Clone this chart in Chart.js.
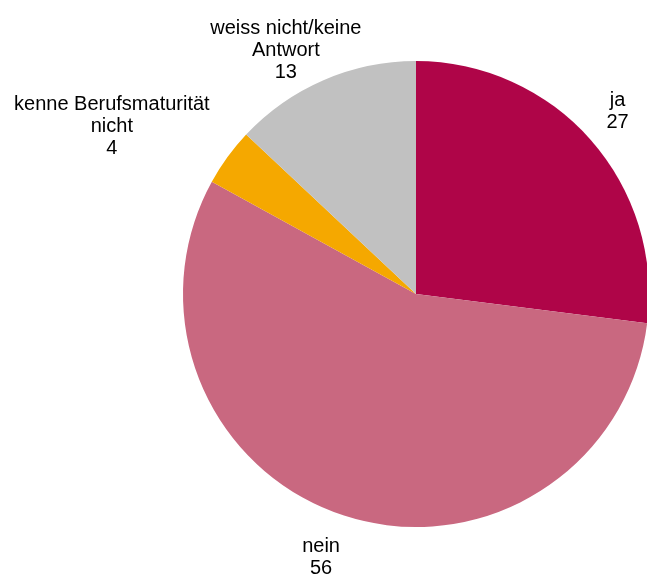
<!DOCTYPE html>
<html>
<head>
<meta charset="utf-8">
<script src="https://cdn.jsdelivr.net/npm/chart.js@4/dist/chart.umd.min.js"></script>
<style>
  html, body { margin: 0; padding: 0; background: #fff; }
  #wrap { width: 647px; height: 575px; overflow: hidden; position: relative; }
  canvas { display: block; }
</style>
</head>
<body>
<div id="wrap"><canvas id="chartPie" width="660" height="575"></canvas></div>
<script>
  // Daten
  const kategorien = [
    ['ja'],
    ['nein'],
    ['kenne Berufsmaturität', 'nicht'],
    ['weiss nicht/keine', 'Antwort']
  ];
  const werte = [27, 56, 4, 13];
  const farben = ['#AF0548', '#C96880', '#F5A800', '#C1C1C1'];

  // Abstand der Beschriftung zum Kreisrand (px) und Feinkorrektur, je Segment
  const labelGap = [22, 23, 34, 4];
  const labelNudge = [[2, 1], [-10, -1], [-9, 9], [-6, 4]];

  const FONT = '20px "Liberation Sans", Arial, sans-serif';
  const LINE_H = 22;

  // Beschriftungen ausserhalb der Segmente
  const aussenLabels = {
    id: 'aussenLabels',
    afterDatasetsDraw(chart) {
      const ctx = chart.ctx;
      const meta = chart.getDatasetMeta(0);
      ctx.save();
      ctx.font = FONT;
      ctx.fillStyle = '#000';
      ctx.textAlign = 'center';
      ctx.textBaseline = 'middle';
      meta.data.forEach((arc, i) => {
        const lines = kategorien[i].concat(String(werte[i]));
        const w = Math.max(...lines.map((l) => ctx.measureText(l).width));
        const h = lines.length * LINE_H;
        const mid = (arc.startAngle + arc.endAngle) / 2;
        const ux = Math.cos(mid), uy = Math.sin(mid);
        const d = arc.outerRadius + labelGap[i];
        const cx = arc.x + ux * d + ux * w / 2 + labelNudge[i][0];
        const cy = arc.y + uy * d + uy * h / 2 + labelNudge[i][1];
        lines.forEach((l, k) => {
          ctx.fillText(l, cx, cy - h / 2 + LINE_H * (k + 0.5));
        });
      });
      ctx.restore();
    }
  };

  new Chart(document.getElementById('chartPie'), {
    type: 'pie',
    data: {
      labels: kategorien.map((k) => k.join(' ')),
      datasets: [{
        data: werte,
        backgroundColor: farben,
        borderWidth: 0
      }]
    },
    options: {
      responsive: false,
      animation: false,
      events: [],
      devicePixelRatio: 1,
      layout: { padding: { left: 183, top: 61, right: 11, bottom: 48 } },
      plugins: {
        legend: { display: false },
        tooltip: { enabled: false }
      }
    },
    plugins: [aussenLabels]
  });
</script>
</body>
</html>
